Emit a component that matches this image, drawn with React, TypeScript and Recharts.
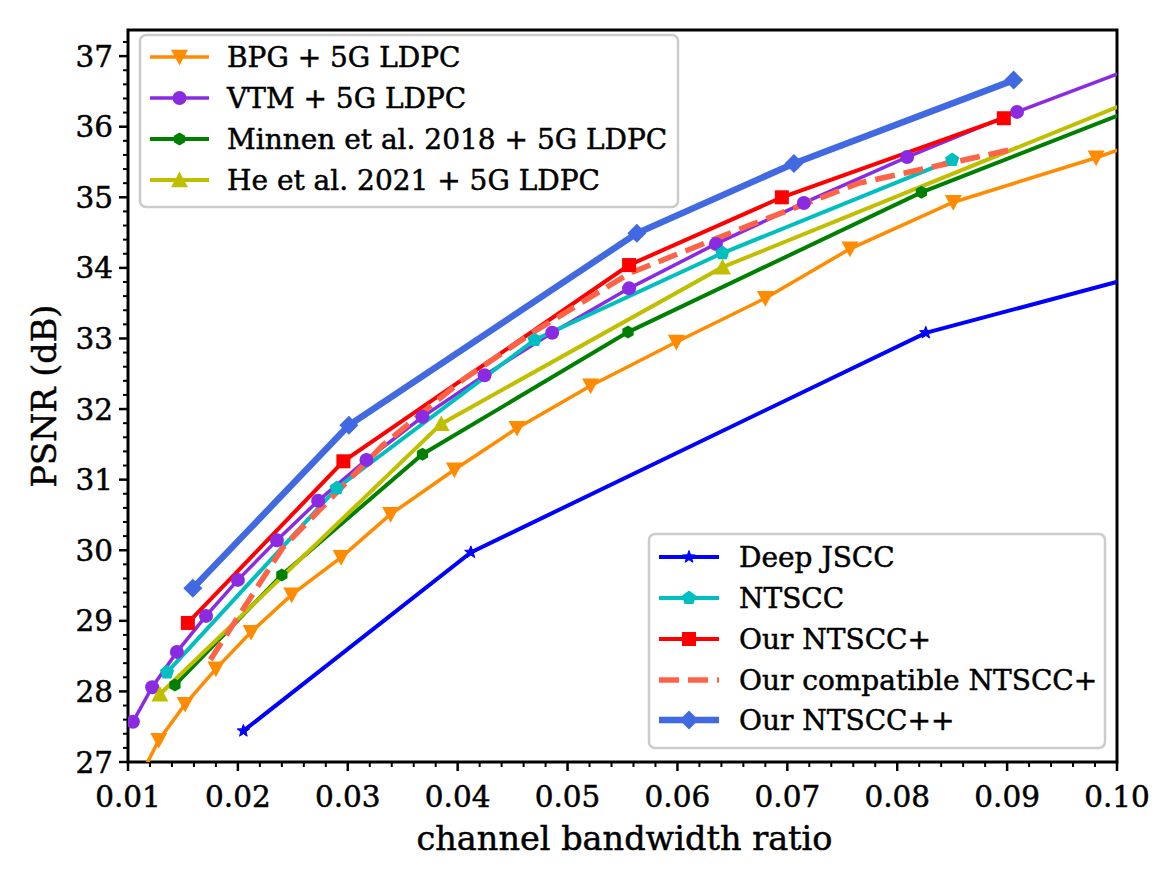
import React from 'react';
import { LineChart, Line, XAxis, YAxis, ReferenceArea } from 'recharts';

const FONT = '"DejaVu Serif", "Liberation Serif", serif';
const TEXT_STROKE = 0.5;

// ---- axis ticks ----
const xMajorTicks = [0.01, 0.02, 0.03, 0.04, 0.05, 0.06, 0.07, 0.08, 0.09, 0.10];
const xTickLabels = ['0.01', '0.02', '0.03', '0.04', '0.05', '0.06', '0.07', '0.08', '0.09', '0.10'];
const xMinorTicks = [
  0.012, 0.014, 0.016, 0.018, 0.022, 0.024, 0.026, 0.028, 0.032, 0.034, 0.036, 0.038,
  0.042, 0.044, 0.046, 0.048, 0.052, 0.054, 0.056, 0.058, 0.062, 0.064, 0.066, 0.068,
  0.072, 0.074, 0.076, 0.078, 0.082, 0.084, 0.086, 0.088, 0.092, 0.094, 0.096, 0.098,
];
const yMajorTicks = [27, 28, 29, 30, 31, 32, 33, 34, 35, 36, 37];
const yTickLabels = ['27', '28', '29', '30', '31', '32', '33', '34', '35', '36', '37'];
const yMinorTicks = [
  27.2, 27.4, 27.6, 27.8, 28.2, 28.4, 28.6, 28.8, 29.2, 29.4, 29.6, 29.8,
  30.2, 30.4, 30.6, 30.8, 31.2, 31.4, 31.6, 31.8, 32.2, 32.4, 32.6, 32.8,
  33.2, 33.4, 33.6, 33.8, 34.2, 34.4, 34.6, 34.8, 35.2, 35.4, 35.6, 35.8,
  36.2, 36.4, 36.6, 36.8, 37.2,
];
const xDomain = [0.01, 0.10];
const yDomain = [27, 37.37];

// ---- series values (channel bandwidth ratio, PSNR dB) ----
const bpgRatio = [0.0100, 0.0128, 0.0152, 0.0180, 0.0212, 0.0249, 0.0294, 0.0339, 0.0397, 0.0454, 0.0521, 0.0599, 0.0680, 0.0757, 0.0851, 0.0981, 0.1060];
const bpgPsnr = [26.45, 27.31, 27.82, 28.32, 28.84, 29.37, 29.90, 30.51, 31.14, 31.73, 32.33, 32.95, 33.57, 34.27, 34.93, 35.56, 35.99];

const vtmRatio = [0.01045, 0.0122, 0.01445, 0.0171, 0.0200, 0.02355, 0.0273, 0.0317, 0.0368, 0.04245, 0.0486, 0.0556, 0.0635, 0.0715, 0.0809, 0.0909, 0.1030];
const vtmPsnr = [27.57, 28.06, 28.56, 29.07, 29.58, 30.14, 30.70, 31.28, 31.89, 32.48, 33.08, 33.71, 34.34, 34.92, 35.57, 36.21, 36.92];

const minnenRatio = [0.01427, 0.0240, 0.0368, 0.0555, 0.0822, 0.1100];
const minnenPsnr = [28.09, 29.65, 31.36, 33.09, 35.07, 36.76];

const heRatio = [0.0129, 0.0385, 0.0641, 0.1100];
const hePsnr = [27.96, 31.79, 34.01, 36.91];

const deepJsccRatio = [0.0205, 0.0412, 0.0826, 0.1200];
const deepJsccPsnr = [27.44, 29.97, 33.08, 34.63];

const ntsccRatio = [0.01355, 0.0290, 0.0470, 0.0641, 0.0850];
const ntsccPsnr = [28.27, 30.88, 32.98, 34.21, 35.53];

const ntsccPlusRatio = [0.01545, 0.0296, 0.0556, 0.0695, 0.0897];
const ntsccPlusPsnr = [28.97, 31.26, 34.04, 35.00, 36.12];

const compatRatio = [0.0175, 0.0241, 0.0332, 0.0405, 0.0470, 0.0556, 0.0665, 0.0765, 0.0902];
const compatPsnr = [28.45, 30.04, 31.49, 32.42, 33.10, 33.92, 34.60, 35.20, 35.67];

const ntsccPPRatio = [0.0159, 0.0301, 0.0563, 0.0706, 0.0906];
const ntsccPPPsnr = [29.46, 31.77, 34.49, 35.48, 36.66];

const toData = (xs: number[], ys: number[]) => xs.map((x, i) => ({ x, y: ys[i] }));

type Shape = 'tri_down' | 'circle' | 'hexagon' | 'tri_up' | 'star' | 'pentagon' | 'square' | 'none' | 'diamond';

interface SeriesDef {
  name: string;
  color: string;
  width: number;
  shape: Shape;
  size: number;
  dash?: string;
  data: { x: number; y: number }[];
}

const series: SeriesDef[] = [
  { name: 'BPG + 5G LDPC', color: '#ff8c00', width: 3.5, shape: 'tri_down', size: 8.5, data: toData(bpgRatio, bpgPsnr) },
  { name: 'VTM + 5G LDPC', color: '#8a2be2', width: 3.5, shape: 'circle', size: 7, data: toData(vtmRatio, vtmPsnr) },
  { name: 'Minnen et al. 2018 + 5G LDPC', color: '#008000', width: 4, shape: 'hexagon', size: 6.5, data: toData(minnenRatio, minnenPsnr) },
  { name: 'He et al. 2021 + 5G LDPC', color: '#bfbf00', width: 4, shape: 'tri_up', size: 8.5, data: toData(heRatio, hePsnr) },
  { name: 'Deep JSCC', color: '#0000ff', width: 4, shape: 'star', size: 6.5, data: toData(deepJsccRatio, deepJsccPsnr) },
  { name: 'NTSCC', color: '#00bfbf', width: 4, shape: 'pentagon', size: 7.5, data: toData(ntsccRatio, ntsccPsnr) },
  { name: 'Our NTSCC+', color: '#ff0000', width: 4, shape: 'square', size: 7, data: toData(ntsccPlusRatio, ntsccPlusPsnr) },
  { name: 'Our compatible NTSCC+', color: '#ff6347', width: 5.5, shape: 'none', size: 0, dash: '20 9', data: toData(compatRatio, compatPsnr) },
  { name: 'Our NTSCC++', color: '#4169e1', width: 6.5, shape: 'diamond', size: 9.5, data: toData(ntsccPPRatio, ntsccPPPsnr) },
];

function polyPoints(cx: number, cy: number, r: number, n: number, rot: number) {
  const pts: string[] = [];
  for (let i = 0; i < n; i++) {
    const a = rot + (i * 2 * Math.PI) / n;
    pts.push(`${cx + r * Math.cos(a)},${cy + r * Math.sin(a)}`);
  }
  return pts.join(' ');
}

function starPoints(cx: number, cy: number, r: number) {
  const pts: string[] = [];
  for (let i = 0; i < 10; i++) {
    const a = -Math.PI / 2 + (i * Math.PI) / 5;
    const rr = i % 2 === 0 ? r : r * 0.42;
    pts.push(`${cx + rr * Math.cos(a)},${cy + rr * Math.sin(a)}`);
  }
  return pts.join(' ');
}

function Marker({ shape, cx, cy, color, size }: { shape: Shape; cx: number; cy: number; color: string; size: number }) {
  const s = size;
  switch (shape) {
    case 'tri_down':
      return <polygon points={`${cx - s},${cy - s * 0.85} ${cx + s},${cy - s * 0.85} ${cx},${cy + s}`} fill={color} />;
    case 'tri_up':
      return <polygon points={`${cx - s},${cy + s * 0.85} ${cx + s},${cy + s * 0.85} ${cx},${cy - s}`} fill={color} />;
    case 'circle':
      return <circle cx={cx} cy={cy} r={s} fill={color} />;
    case 'hexagon':
      return <polygon points={polyPoints(cx, cy, s, 6, -Math.PI / 2)} fill={color} />;
    case 'pentagon':
      return <polygon points={polyPoints(cx, cy, s, 5, -Math.PI / 2)} fill={color} />;
    case 'square':
      return <rect x={cx - s} y={cy - s} width={2 * s} height={2 * s} fill={color} />;
    case 'diamond':
      return <polygon points={`${cx},${cy - s} ${cx + s},${cy} ${cx},${cy + s} ${cx - s},${cy}`} fill={color} />;
    case 'star':
      return <polygon points={starPoints(cx, cy, s)} fill={color} stroke={color} strokeWidth={1} />;
    default:
      return null;
  }
}

function XTick(props: any) {
  const { x, y, payload } = props;
  const v = payload.value as number;
  const i = xMajorTicks.findIndex((t) => Math.abs(t - v) < 1e-9);
  const major = i >= 0;
  return (
    <g>
      <line x1={x} x2={x} y1={y} y2={y + (major ? 9 : 5)} stroke="#000" strokeWidth={major ? 2.5 : 2} />
      {major && (
        <text x={x} y={y + 45} textAnchor="middle" fontFamily={FONT} fontSize={29.5} fill="#000" stroke="#000" strokeWidth={TEXT_STROKE}>
          {xTickLabels[i]}
        </text>
      )}
    </g>
  );
}

function YTick(props: any) {
  const { x, y, payload } = props;
  const v = payload.value as number;
  const i = yMajorTicks.findIndex((t) => Math.abs(t - v) < 1e-9);
  const major = i >= 0;
  return (
    <g>
      <line x1={x - (major ? 9 : 5)} x2={x} y1={y} y2={y} stroke="#000" strokeWidth={major ? 2.5 : 2} />
      {major && (
        <text x={x - 15} y={y + 10.5} textAnchor="end" fontFamily={FONT} fontSize={29.5} fill="#000" stroke="#000" strokeWidth={TEXT_STROKE}>
          {yTickLabels[i]}
        </text>
      )}
    </g>
  );
}

function XTitle(props: any) {
  const vb = props.viewBox || { x: 128, width: 989 };
  return (
    <text x={vb.x + vb.width / 2 + 2} y={850} textAnchor="middle" fontFamily={FONT} fontSize={33.5} fill="#000" stroke="#000" strokeWidth={TEXT_STROKE}>
      channel bandwidth ratio
    </text>
  );
}

function YTitle(props: any) {
  const vb = props.viewBox || { y: 30, height: 732 };
  const cy = vb.y + vb.height / 2;
  return (
    <text x={56} y={cy} transform={`rotate(-90, 56, ${cy})`} textAnchor="middle" fontFamily={FONT} fontSize={33.5} fill="#000" stroke="#000" strokeWidth={TEXT_STROKE}>
      PSNR (dB)
    </text>
  );
}

function LegendBox({ x, y, w, h, items, lineX1, lineX2, textX, rowY }: any) {
  return (
    <g>
      <rect x={x} y={y} width={w} height={h} rx={6} ry={6} fill="#ffffff" fillOpacity={0.8} stroke="#cccccc" strokeWidth={2.5} />
      {items.map((s: SeriesDef, i: number) => {
        const cy = rowY[i];
        const cx = (lineX1 + lineX2) / 2;
        return (
          <g key={s.name}>
            <line x1={lineX1} x2={lineX2} y1={cy} y2={cy} stroke={s.color} strokeWidth={s.width} strokeDasharray={s.dash} />
            <Marker shape={s.shape} cx={cx} cy={cy} color={s.color} size={s.size} />
            <text x={textX} y={cy + 10} fontFamily={FONT} fontSize={28} fill="#000" stroke="#000" strokeWidth={TEXT_STROKE}>
              {s.name}
            </text>
          </g>
        );
      })}
    </g>
  );
}

export default function App() {
  return (
    <div style={{ position: 'absolute', left: 0, top: 0, width: 1167, height: 878, background: '#fff' }}>
      <LineChart width={1167} height={878} margin={{ top: 30, right: 50, bottom: 0, left: 0 }}>
        <XAxis
          type="number"
          dataKey="x"
          domain={xDomain}
          allowDataOverflow
          ticks={[...xMajorTicks, ...xMinorTicks].sort((a, b) => a - b)}
          interval={0}
          tick={<XTick />}
          tickLine={false}
          tickSize={0}
          tickMargin={0}
          axisLine={false}
          height={116}
          label={<XTitle />}
        />
        <YAxis
          type="number"
          dataKey="y"
          domain={yDomain}
          allowDataOverflow
          ticks={[...yMajorTicks, ...yMinorTicks].sort((a, b) => a - b)}
          interval={0}
          tick={<YTick />}
          tickLine={false}
          tickSize={0}
          tickMargin={0}
          axisLine={false}
          width={128}
          label={<YTitle />}
        />
        {series.map((s) => (
          <Line
            key={s.name}
            data={s.data}
            dataKey="y"
            name={s.name}
            type="linear"
            stroke={s.color}
            strokeWidth={s.width}
            strokeDasharray={s.dash}
            isAnimationActive={false}
            activeDot={false}
            dot={
              s.shape === 'none'
                ? false
                : (p: any) => <Marker key={`${s.name}-${p.index}`} shape={s.shape} cx={p.cx} cy={p.cy} color={s.color} size={s.size} />
            }
          />
        ))}
        <ReferenceArea x1={0.01} x2={0.10} y1={27} y2={37.37} fill="none" stroke="#000" strokeWidth={3} ifOverflow="visible" />
      </LineChart>
      <svg width={1167} height={878} style={{ position: 'absolute', left: 0, top: 0, pointerEvents: 'none' }}>
        <LegendBox x={140} y={35} w={538} h={172} items={series.slice(0, 4)} lineX1={150} lineX2={209} textX={227} rowY={[57, 98, 139, 180]} />
        <LegendBox x={649} y={534} w={456} h={214} items={series.slice(4)} lineX1={659} lineX2={719} textX={739} rowY={[557, 598, 639, 680, 720]} />
      </svg>
    </div>
  );
}
